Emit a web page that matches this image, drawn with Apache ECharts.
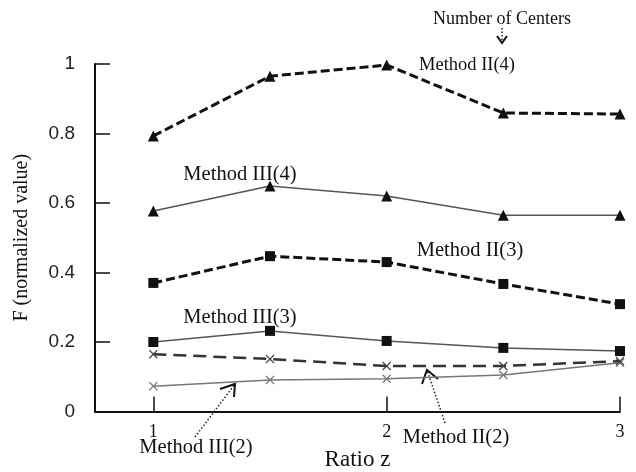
<!DOCTYPE html>
<html>
<head>
<meta charset="utf-8">
<script src="https://cdn.jsdelivr.net/npm/echarts@6/dist/echarts.min.js"></script>
<style>
  html, body { margin: 0; padding: 0; background: #fff; }
  #main { width: 636px; height: 472px; }
</style>
</head>
<body>
<div id="main"></div>
<script>
// ratio z values
var ratioZ = [1, 1.5, 2, 2.5, 3];
// F (normalized value)
var methodII4 = [0.793, 0.965, 0.997, 0.859, 0.856];
var methodIII4 = [0.577, 0.649, 0.620, 0.565, 0.565];
var methodII3 = [0.370, 0.447, 0.430, 0.367, 0.309];
var methodIII3 = [0.200, 0.232, 0.203, 0.183, 0.174];
var methodII2 = [0.165, 0.151, 0.131, 0.131, 0.145];
var methodIII2 = [0.073, 0.091, 0.094, 0.105, 0.140];
var xTicks = [1, 2, 3];

var SERIF = 'Liberation Serif';
var SANS = 'Liberation Sans';
var CROSS = 'path://M0,1L1,0L5,4L9,0L10,1L6,5L10,9L9,10L5,6L1,10L0,9L4,5Z';

function pairs(ys) {
	return ys.map(function(y, i) { return [ratioZ[i], y]; });
}

function mkSeries(name, ys, dashed, symbol, size, color, mcolor, width, dash) {
	return {
		name: name,
		type: 'line',
		data: pairs(ys),
		symbol: symbol,
		symbolSize: size,
		showAllSymbol: true,
		itemStyle: { color: mcolor },
		lineStyle: { color: color, width: width, type: dashed ? dash : 'solid' },
		z: dashed ? 3 : 2
	};
}

var myChart = echarts.init(document.getElementById('main'));

// dotted arrow helper (pixel space)
function arrow(x1, y1, x2, y2, h1, h2) {
	return [{
		type: 'line',
		shape: { x1: x1, y1: y1, x2: x2, y2: y2 },
		style: { stroke: '#222', lineWidth: 1.5, lineDash: [1.5, 2] }
	}, {
		type: 'polyline',
		shape: { points: [h1, [x2, y2], h2] },
		style: { stroke: '#111', lineWidth: 2, fill: null }
	}];
}

function label(text, x, y, size) {
	return {
		type: 'text',
		x: x, y: y,
		style: { text: text, font: size + 'px "' + SERIF + '"', fill: '#111', align: 'center', verticalAlign: 'middle' }
	};
}

var graphics = [
	label('Number of Centers', 502, 19, 18),
	label('Method II(4)', 467, 65, 18.5),
	label('Method III(4)', 240, 175, 20.5),
	label('Method II(3)', 470, 251, 20.5),
	label('Method III(3)', 240, 318, 20.5),
	label('Method III(2)', 196, 448, 20.5),
	label('Method II(2)', 456, 438, 20.5)
];
graphics = graphics
	.concat(arrow(502, 28, 502, 43, [497, 36], [507, 36]))
	.concat(arrow(195, 437, 235, 384, [220, 389], [234, 397]))
	.concat(arrow(445, 423, 427, 370, [422, 384], [438, 379]));

myChart.setOption({
	animation: false,
	backgroundColor: '#fff',
	textStyle: { fontFamily: SERIF },
	grid: { left: 95, right: 16, top: 64, bottom: 60.5, containLabel: false, outerBoundsMode: 'none' },
	xAxis: {
		type: 'value',
		min: 0.75,
		max: 3,
		name: 'Ratio z',
		nameLocation: 'middle',
		nameGap: 37,
		nameTextStyle: { fontSize: 23, color: '#111', fontFamily: SERIF },
		splitLine: { show: false },
		axisLine: { lineStyle: { color: '#111', width: 2 } },
		axisTick: { inside: true, length: 15, customValues: xTicks, lineStyle: { color: '#111', width: 1.5 } },
		axisLabel: { customValues: xTicks, fontSize: 18, color: '#111', margin: 12, fontFamily: SERIF }
	},
	yAxis: {
		type: 'value',
		min: 0,
		max: 1,
		interval: 0.2,
		name: 'F (normalized value)',
		nameLocation: 'middle',
		nameGap: 63,
		nameTextStyle: { fontSize: 20, color: '#111', fontFamily: SERIF },
		splitLine: { show: false },
		axisLine: { lineStyle: { color: '#111', width: 2 } },
		axisTick: { inside: true, length: 15, lineStyle: { color: '#111', width: 1.5 } },
		axisLabel: {
			fontSize: 19, color: '#222', margin: 20, fontFamily: SANS,
			formatter: function(v) { return +v.toFixed(1) + ''; }
		}
	},
	series: [
		mkSeries('Method II(4)', methodII4, true, 'triangle', 11, '#111', '#111', 3, [9, 4]),
		mkSeries('Method III(4)', methodIII4, false, 'triangle', 11, '#555', '#111', 1.5),
		mkSeries('Method II(3)', methodII3, true, 'rect', 10, '#111', '#111', 3, [9, 4]),
		mkSeries('Method III(3)', methodIII3, false, 'rect', 10, '#555', '#111', 1.5),
		mkSeries('Method II(2)', methodII2, true, CROSS, 9, '#333', '#444', 2.5, [13, 7]),
		mkSeries('Method III(2)', methodIII2, false, CROSS, 9, '#777', '#777', 1.5)
	],
	graphic: graphics
});
</script>
</body>
</html>
